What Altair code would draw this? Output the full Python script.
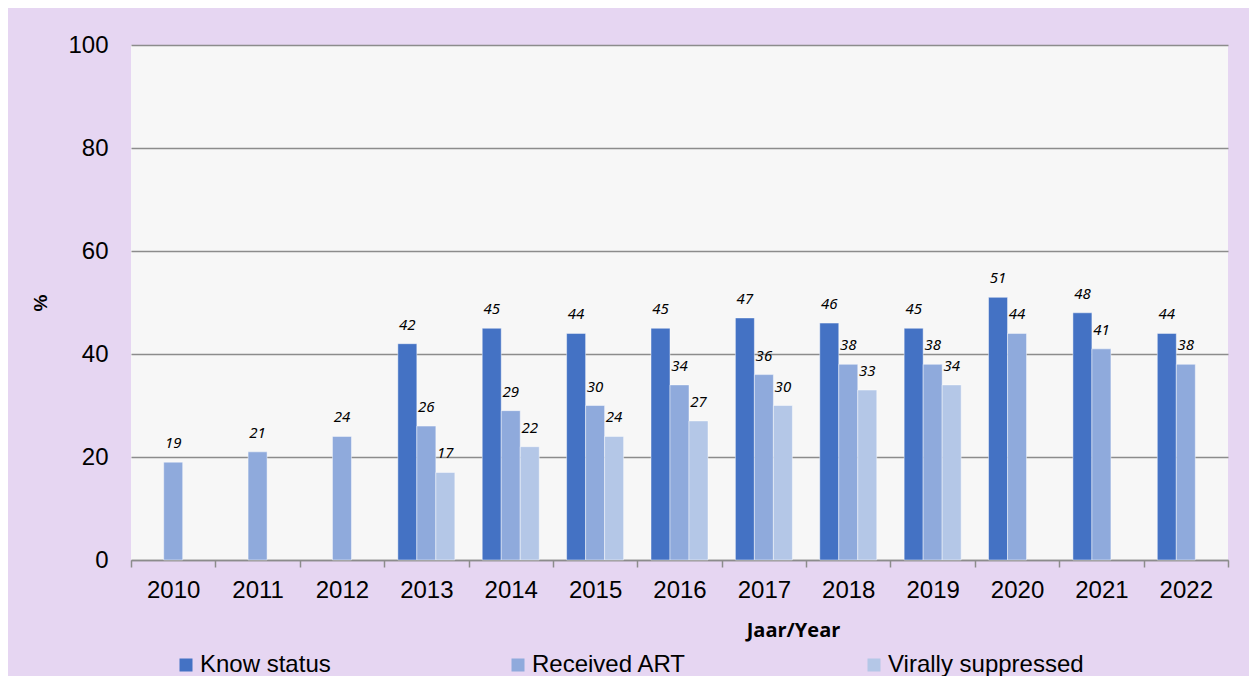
import altair as alt
import pandas as pd

years = ["2010", "2011", "2012", "2013", "2014", "2015", "2016", "2017", "2018", "2019", "2020", "2021", "2022"]
series = ["Know status", "Received ART", "Virally suppressed"]
colors = ["#4472C4", "#8FAADC", "#B4C7E7"]

know_status = [None, None, None, 42, 45, 44, 45, 47, 46, 45, 51, 48, 44]
received_art = [19, 21, 24, 26, 29, 30, 34, 36, 38, 38, 44, 41, 38]
virally_suppressed = [None, None, None, 17, 22, 24, 27, 30, 33, 34, None, None, None]

rows = []
for name, vals in zip(series, [know_status, received_art, virally_suppressed]):
    for y, v in zip(years, vals):
        if v is not None:
            rows.append({"year": y, "series": name, "value": v})
df = pd.DataFrame(rows)

FONT = "Liberation Sans"

x_enc = alt.X(
    "year:N",
    sort=years,
    scale=alt.Scale(paddingInner=0, paddingOuter=0),
    axis=alt.Axis(
        title="Jaar/Year",
        titleFont="Open Sans",
        titleFontSize=20,
        titleFontWeight="bold",
        titleColor="#000000",
        titleX=662,
        titleAlign="center",
        titlePadding=18,
        labelFont=FONT,
        labelFontSize=24,
        labelColor="#000000",
        labelPadding=11,
        labelAngle=0,
        tickBand="extent",
        tickSize=7,
        tickColor="#8C8C8C",
        tickWidth=1.5,
        domainColor="#8C8C8C",
        domainWidth=1.5,
        grid=False,
    ),
)
xoff = alt.XOffset(
    "series:N",
    sort=series,
    scale=alt.Scale(domain=series, paddingInner=0, paddingOuter=0.72),
)
y_enc = alt.Y(
    "value:Q",
    scale=alt.Scale(domain=[0, 100]),
    axis=alt.Axis(
        values=[0, 20, 40, 60, 80, 100],
        title="%",
        titleFont=FONT,
        titleFontSize=19,
        titleFontWeight="bold",
        titleColor="#000000",
        titlePadding=17,
        labelFont=FONT,
        labelFontSize=24,
        labelColor="#000000",
        labelPadding=23,
        ticks=False,
        domain=False,
        grid=True,
        gridColor="#8C8C8C",
        gridWidth=1.5,
    ),
)

bars = alt.Chart(df).mark_bar(stroke="#FFFFFF", strokeOpacity=0.45, strokeWidth=1).encode(
    x=x_enc,
    xOffset=xoff,
    y=y_enc,
    color=alt.Color(
        "series:N",
        sort=series,
        scale=alt.Scale(domain=series, range=colors),
        legend=alt.Legend(
            title=None,
            orient="none",
            direction="horizontal",
            legendX=43,
            legendY=608,
            symbolType="square",
            symbolSize=169,
            symbolStrokeWidth=0,
            labelFont=FONT,
            labelFontSize=24,
            labelColor="#000000",
            labelOffset=2,
            columnPadding=175,
            padding=0,
            labelLimit=400,
        ),
    ),
)

labels = alt.Chart(df).mark_text(
    dy=-11, fontStyle="italic", font="Noto Sans", fontSize=15, color="#000000", baseline="bottom"
).encode(
    x=alt.X("year:N", sort=years),
    xOffset=xoff,
    y="value:Q",
    text="value:Q",
)

chart = (
    alt.layer(bars, labels)
    .properties(
        width=1097,
        height=515,
        background="#E6D6F2",
        autosize=alt.AutoSizeParams(type="none"),
        padding={"left": 123, "top": 37, "right": 21, "bottom": 116},
    )
    .configure_view(fill="#F7F7F7", stroke=None)
)

chart.save("out.html", embed_options={"renderer": "svg", "actions": False})
